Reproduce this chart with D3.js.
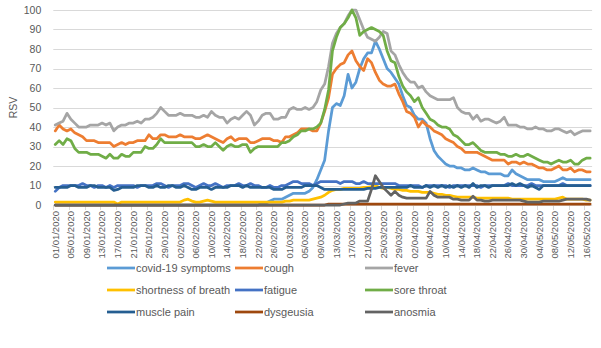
<!DOCTYPE html>
<html>
<head>
<meta charset="utf-8">
<script src="https://cdn.jsdelivr.net/npm/d3@7"></script>
<style>
  body { margin: 0; background: #fff; }
  text { font-family: "Liberation Sans", Arial, sans-serif; fill: #595959; }
</style>
</head>
<body>
<div id="chart"></div>
<script>
// daily categories 01/01/2020 .. 17/05/2020
var dates = d3.timeDay.range(new Date(2020, 0, 1), new Date(2020, 4, 18));
var yTicks = [0, 10, 20, 30, 40, 50, 60, 70, 80, 90, 100];

var covid19Symptoms = [
  0,0,0,0,0,0,0,0,0,0,
  0,0,0,0,0,0,0,0,0,0,
  0,0,0,0,0,0,0,0,0,0,
  0,0,0,0,0,0,0,0,0,0,
  0,0,0,0,0,0,0,0,0,0,
  0,0,0,1,1,2,3,3,3,4,
  5,6,6,6,6,7,9,13,18,23,
  38,50,52,51,56,67,60,63,70,75,
  78,78,84,80,75,70,68,65,62,56,
  51,50,46,44,44,42,34,28,25,23,
  21,20,20,19,19,18,18,19,18,17,
  17,16,16,16,16,15,15,18,16,15,
  14,13,13,13,13,12,12,12,12,13,
  14,13,13,13,13,13,13,13];

var cough = [
  38,41,39,38,39,37,36,35,33,33,
  33,32,32,32,32,30,31,32,31,32,
  32,33,33,33,36,34,34,36,36,35,
  35,35,36,35,35,35,34,34,35,36,
  35,34,33,32,34,35,33,34,34,34,
  32,32,33,34,34,34,33,33,32,35,
  35,36,37,39,39,39,38,38,42,48,
  55,67,70,72,73,77,79,74,71,69,
  75,73,68,64,62,61,61,62,57,53,
  48,47,45,40,43,41,40,38,37,36,
  34,33,32,30,29,27,27,27,27,26,
  25,24,23,23,23,23,21,22,22,21,
  22,21,21,20,19,19,18,18,19,20,
  18,18,19,17,18,18,17,17];

var fever = [
  41,42,43,47,44,42,40,40,40,41,
  41,41,42,41,42,38,40,41,41,42,
  42,43,42,44,44,45,47,50,48,46,
  46,46,47,46,46,46,45,45,46,45,
  48,46,45,45,42,44,45,44,46,48,
  46,41,43,46,47,47,44,44,45,45,
  49,50,49,49,50,49,50,53,59,62,
  71,83,88,91,93,97,100,100,95,90,
  86,85,84,86,89,88,79,77,72,68,
  65,63,63,60,61,58,56,55,54,54,
  54,54,55,50,48,47,47,44,46,43,
  44,44,43,42,43,45,41,41,41,40,
  40,39,39,40,39,39,38,38,39,39,
  38,37,38,36,37,38,38,38];

var shortnessOfBreath = [
  1.5,1.5,1.5,1.5,1.5,1.5,1.5,1.5,1.5,1.5,
  1.5,1.5,1.5,1.5,1.5,1.5,0.5,1.5,1.5,1.5,
  1.5,1.5,1.5,1.5,1.5,1.5,1.5,1.5,1.5,1.5,
  1.5,1.5,1.5,2.5,3,2,1.5,1.5,2,2.5,
  2,1.5,1.5,1.5,1.5,1.5,1.5,1.5,1.5,1.5,
  1.5,1.5,1.5,1.5,1.5,1.5,1.5,1.5,1.5,2,
  2,2.5,2.5,2.5,2.5,2.5,3,3.5,4,5,
  6.5,7.5,8,8,8.5,8.5,8.5,8.5,8.5,9,
  9,9.5,10,9,8.5,9,8.5,8,8,7.5,
  7.5,7,7,7,6.5,6.5,6.5,6,5.5,5.5,
  5,5,4.5,4,4,4,4,4,3.5,3.5,
  3.5,3.5,3.5,3.5,3.5,3.5,3.5,3,3,3,
  3,3,3,3,3,3,3,3,3,3.5,
  4,3,3,3,3,3,2.5,2.5];

var fatigue = [
  7,9,10,10,10,10,10,11,10,10,
  9,10,10,9,10,9,10,10,10,10,
  10,9,10,10,10,10,11,11,10,9,
  10,10,10,11,11,10,9,10,11,10,
  10,11,10,9,10,10,10,11,10,10,
  11,10,10,9,9,10,9,9,10,10,
  11,12,12,11,11,11,10,11,12,12,
  12,12,12,11,12,12,12,11,11,12,
  11,11,11,11,11,11,11,11,10,10,
  10,10,10,10,9,10,10,10,10,10,
  10,9,10,10,10,10,10,10,10,9,
  10,10,10,10,10,10,11,10,10,10,
  10,10,11,10,10,10,10,10,10,10,
  11,10,10,10,10,10,10,10];

var soreThroat = [
  31,33,31,34,33,29,27,27,27,26,
  26,26,25,24,26,24,24,26,25,25,
  27,27,27,30,29,29,31,34,32,32,
  32,32,32,32,32,32,30,30,31,30,
  30,32,30,28,30,31,30,30,31,31,
  27,29,30,30,30,30,30,30,32,32,
  33,35,36,38,38,39,39,40,42,49,
  59,79,86,91,93,96,100,96,87,89,
  90,91,90,89,87,79,74,73,66,61,
  58,56,53,55,50,47,44,43,41,40,
  40,39,36,35,33,31,31,32,30,28,
  27,27,27,27,26,26,25,25,26,25,
  25,26,25,24,23,22,22,21,22,23,
  22,22,23,21,21,23,24,24];

var musclePain = [
  9,9,9,9,10,10,9,9,9,10,
  10,9,9,9,9,7.5,8,9,9,9,
  9,10,10,10,9,9,10,9,9,10,
  10,9,9,10,9,8,8,9,9,9,
  8,9,9,9,9,10,10,10,9,10,
  9,9,9,9,9,9,8,8,8,9,
  9,9,9,9,10,10,10,10,9,8,
  8,8,8,8,8,8,8,8,8,8,
  8.5,8.5,8.5,9,9,9,9,9,9,9,
  9,10,9,9,9,10,9,10,9,10,
  9,10,9,10,9,10,9,11,9,10,
  10,9,10,10,10,10,10,11,10,11,
  10,9,10,9,8,10,10,10,10,10,
  10,10,10,10,10,10,10,10];

var dysgeusia = [
  0,0,0,0,0,0,0,0,0,0,
  0,0,0,0,0,0,0,0,0,0,
  0,0,0,0,0,0,0,0,0,0,
  0,0,0,0,0,0,0,0,0,0,
  0,0,0,0,0,0,0,0,0,0,
  0,0,0,0,0,0,0,0,0,0,
  0,0,0,0,0,0,0,0,0,0,
  0.5,0.5,0.5,0.5,0.5,0.5,0.5,0.5,0.5,0.5,
  0.5,0.5,0.5,0.5,0.5,0.5,0.5,0.5,0.5,0.5,
  0.5,0.5,0.5,0.5,0.5,0.5,0.5,0.5,0.5,0.5,
  0.5,0.5,0.5,0.5,0.5,0.5,0.5,0.5,0.5,0.5,
  0.5,0.5,0.5,0.5,0.5,0.5,0.5,0.5,0.5,0.5,
  0.5,0.5,0.5,0.5,0.5,0.5,0.5,0.5,0.5,0.5,
  0.5,0.5,0.5,0.5,0.5,0.5,0.5,0.5];

var anosmia = [
  0,0,0,0,0,0,0,0,0,0,
  0,0,0,0,0,0,0,0,0,0,
  0,0,0,0,0,0,0,0,0,0,
  0,0,0,0,0,0,0,0,0,0,
  0,0,0,0,0,0,0,0,0,0,
  0,0,0,0,0,0,0,0,0,0,
  0,0,0,0,0,0,0,0,0,0,
  0,0,0,0,0.5,1,1,1,2,2,
  2,8,15,12,9,7,5,7,5,4,
  3.5,3.5,3.5,3.5,3.5,3.5,7,5,4,4,
  4,4,3,3,2.5,2.5,2.5,4.5,2.5,2.5,
  2,2,2.5,2.5,2.5,2.5,2.5,2.5,2.5,2.5,
  2,1.5,1.5,1.5,1.5,2,2,2,2,2,
  2.5,3,3,3,3,3,3,2.5];

var seriesNames = ["covid-19 symptoms", "cough", "fever", "shortness of breath", "fatigue",
                   "sore throat", "muscle pain", "dysgeusia", "anosmia"];
var seriesValues = [covid19Symptoms, cough, fever, shortnessOfBreath, fatigue,
                    soreThroat, musclePain, dysgeusia, anosmia];
var seriesColors = ["#5B9BD5", "#ED7D31", "#A5A5A5", "#FFC000", "#4472C4",
                    "#70AD47", "#255E91", "#9E480E", "#636363"];

var width = 601, height = 348,
    plotLeft = 53.3, plotRight = 592.1, plotTop = 10, plotBottom = 205;

var fmt = d3.timeFormat("%d/%m/%Y");

var svg = d3.select("#chart").append("svg")
    .attr("width", width)
    .attr("height", height);

var x = d3.scaleBand()
    .domain(dates)
    .range([plotLeft, plotRight])
    .padding(0);

var y = d3.scaleLinear()
    .domain([0, 100])
    .range([plotBottom, plotTop]);

// horizontal gridlines
svg.append("g")
    .selectAll("line")
    .data(yTicks)
    .enter().append("line")
    .attr("x1", plotLeft).attr("x2", plotRight)
    .attr("y1", function(d){ return Math.round(y(d)) + 0.5; })
    .attr("y2", function(d){ return Math.round(y(d)) + 0.5; })
    .attr("stroke", "#D9D9D9")
    .attr("stroke-width", 1);

// y axis labels
var yAxis = svg.append("g")
    .attr("transform", "translate(" + plotLeft + ",0)")
    .call(d3.axisLeft(y).tickValues(yTicks).tickSize(0).tickPadding(12));
yAxis.select(".domain").remove();
yAxis.selectAll("text")
    .style("font-size", "10.5px")
    .attr("fill", "#595959");

svg.append("text")
    .attr("transform", "translate(13," + ((plotTop + plotBottom) / 2) + ") rotate(-90)")
    .attr("text-anchor", "middle")
    .attr("dy", "0.35em")
    .style("font-size", "10.5px")
    .text("RSV");

// x axis: tick marks on category boundaries every 4 days
var labelDates = dates.filter(function(d, i){ return i % 4 === 0; });

svg.append("g")
    .selectAll("line")
    .data(labelDates)
    .enter().append("line")
    .attr("x1", function(d){ return Math.round(x(d)) + 0.5; })
    .attr("x2", function(d){ return Math.round(x(d)) + 0.5; })
    .attr("y1", plotBottom)
    .attr("y2", plotBottom + 5)
    .attr("stroke", "#D9D9D9");

svg.append("line")
    .attr("x1", plotLeft).attr("x2", plotRight)
    .attr("y1", Math.round(plotBottom) + 0.5).attr("y2", Math.round(plotBottom) + 0.5)
    .attr("stroke", "#D9D9D9");

var xAxis = svg.append("g")
    .attr("transform", "translate(0," + plotBottom + ")")
    .call(d3.axisBottom(x).tickValues(labelDates).tickFormat(fmt).tickSize(0));
xAxis.select(".domain").remove();
xAxis.selectAll("text")
    .attr("transform", "rotate(-90)")
    .attr("text-anchor", "end")
    .attr("x", -6)
    .attr("y", 0)
    .attr("dy", "0.35em")
    .style("font-size", "9.5px")
    .attr("fill", "#595959");

// series lines
var line = d3.line()
    .x(function(d, i){ return x(dates[i]) + x.bandwidth() / 2; })
    .y(function(d){ return y(d); });

svg.append("g")
    .selectAll("path")
    .data(seriesValues)
    .enter().append("path")
    .attr("d", line)
    .attr("fill", "none")
    .attr("stroke", function(d, i){ return seriesColors[i]; })
    .attr("stroke-width", 2.75)
    .attr("stroke-linejoin", "round")
    .attr("stroke-linecap", "round");

// legend, 3 columns
var legendCols = [107, 235, 365],
    legendRows = [268, 290, 312];

var legend = svg.append("g")
    .selectAll("g")
    .data(seriesNames)
    .enter().append("g")
    .attr("transform", function(d, i){
        return "translate(" + legendCols[i % 3] + "," + legendRows[Math.floor(i / 3)] + ")";
    });

legend.append("line")
    .attr("x1", 0).attr("x2", 28)
    .attr("y1", 0).attr("y2", 0)
    .attr("stroke", function(d, i){ return seriesColors[i]; })
    .attr("stroke-width", 2.75);

legend.append("text")
    .attr("x", 29)
    .attr("dy", "0.35em")
    .style("font-size", "11px")
    .text(function(d){ return d; });
</script>
</body>
</html>
